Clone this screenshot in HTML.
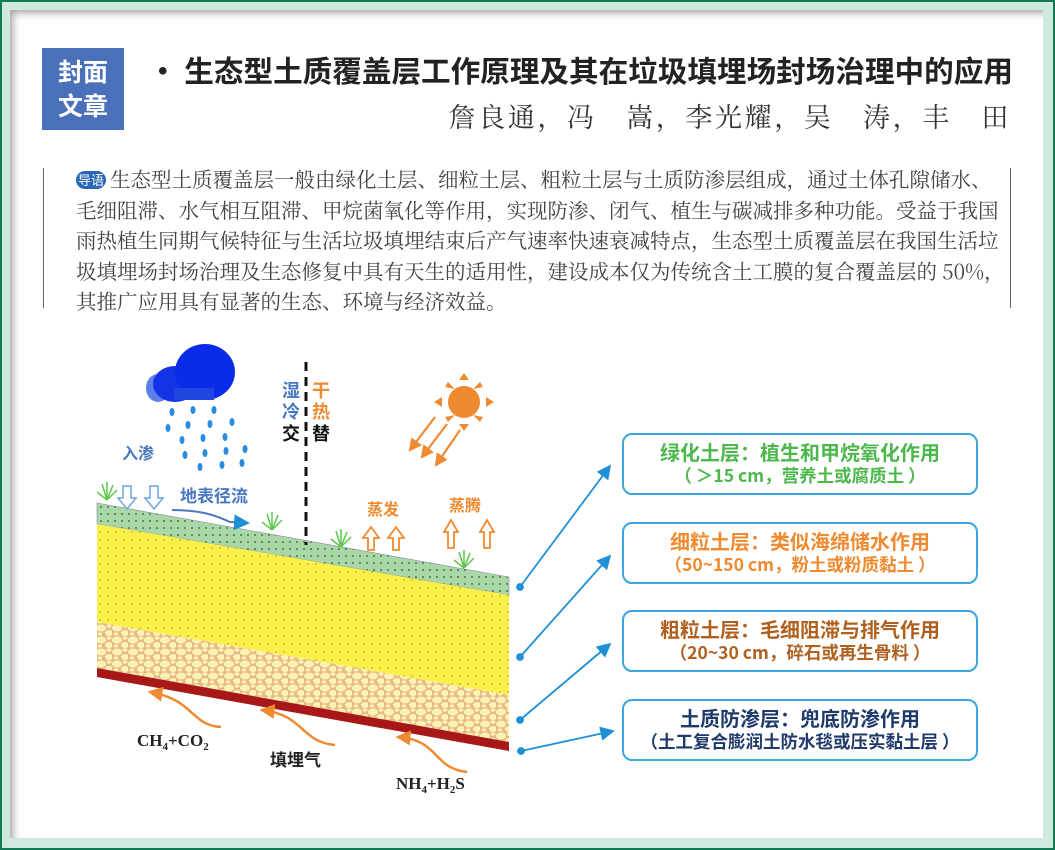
<!DOCTYPE html>
<html><head><meta charset="utf-8"><style>
html,body{margin:0;padding:0;}
body{width:1055px;height:850px;position:relative;background:#cfe9df;overflow:hidden;font-family:"Liberation Sans","Noto Sans CJK SC",sans-serif;}
.outer{position:absolute;left:0;top:0;width:1051px;height:846px;border:2px solid #127a52;}
.card{position:absolute;left:10px;top:10px;width:1033px;height:828px;background:#fff;box-shadow:inset 6px 6px 8px -3px rgba(0,0,0,0.35);}
.badge{position:absolute;left:42px;top:48px;width:82px;height:82px;background:#4a70ba;color:#fff;font-weight:bold;font-size:25px;line-height:34px;text-align:center;padding-top:6px;box-sizing:border-box;font-family:"Noto Sans CJK SC",sans-serif;}
.title{position:absolute;left:148px;top:48px;font-size:29.6px;font-weight:bold;color:#222;font-family:"Noto Sans CJK SC",sans-serif;white-space:nowrap;letter-spacing:0px;}
.auth{position:absolute;right:44px;top:96px;font-size:27px;color:#333;font-family:"Noto Serif CJK SC",serif;white-space:nowrap;letter-spacing:2.6px;}
.bar{position:absolute;top:168px;height:140px;border-left:1.5px solid #666;}
.para{position:absolute;left:76px;top:163px;width:930px;font-size:20.5px;line-height:30.5px;color:#444;font-family:"Noto Serif CJK SC",serif;white-space:nowrap;}
.dy{display:inline-block;background:#2a66b5;color:#fff;border-radius:9px;font-size:13px;line-height:18px;padding:0 2px;margin-right:4px;vertical-align:2px;font-family:"Noto Sans CJK SC",sans-serif;}
.box{position:absolute;left:622px;width:356px;height:62px;border:2px solid #3aa6e0;border-radius:10px;box-sizing:border-box;text-align:center;font-family:"Noto Sans CJK SC",sans-serif;font-weight:bold;white-space:nowrap;}
.box .a{font-size:20px;line-height:24px;margin-top:5px;}
.box .b{font-size:17.5px;line-height:24px;}
</style></head><body>
<div class="outer"></div>
<div class="card"></div>
<div class="badge">封面<br>文章</div>
<div class="title">· 生态型土质覆盖层工作原理及其在垃圾填埋场封场治理中的应用</div>
<div class="auth">詹良通，冯　嵩，李光耀，吴　涛，丰　田</div>
<div class="bar" style="left:43px"></div>
<div class="bar" style="left:1010px"></div>
<div class="para"><span class="dy">导语</span>生态型土质覆盖层一般由绿化土层、细粒土层、粗粒土层与土质防渗层组成，通过土体孔隙储水、<br>毛细阻滞、水气相互阻滞、甲烷菌氧化等作用，实现防渗、闭气、植生与碳减排多种功能。受益于我国<br>雨热植生同期气候特征与生活垃圾填埋结束后产气速率快速衰减特点，生态型土质覆盖层在我国生活垃<br>圾填埋场封场治理及生态修复中具有天生的适用性，建设成本仅为传统含土工膜的复合覆盖层的 50%，<br>其推广应用具有显著的生态、环境与经济效益。</div>

<svg style="position:absolute;left:0;top:0" width="1055" height="850">
<defs>
<pattern id="dg" width="7" height="7" patternUnits="userSpaceOnUse"><rect width="7" height="7" fill="#a8d8a8"/><circle cx="3" cy="3" r="0.9" fill="#335533"/></pattern>
<pattern id="dy" width="8" height="8" patternUnits="userSpaceOnUse"><rect width="8" height="8" fill="#fbf04a"/><circle cx="4" cy="4" r="0.7" fill="#a09020"/></pattern>
<pattern id="gr" width="16" height="12" patternUnits="userSpaceOnUse"><rect width="16" height="12" fill="#e8b88a"/><ellipse cx="5" cy="4" rx="5" ry="3.5" fill="#fbf3b0"/><ellipse cx="13" cy="9" rx="4" ry="3" fill="#fbf3b0"/><ellipse cx="13" cy="2" rx="2.5" ry="1.8" fill="#fbf3b0"/><ellipse cx="4" cy="10" rx="2.5" ry="1.6" fill="#fbf3b0"/></pattern>
<marker id="ab" markerWidth="8" markerHeight="8" refX="7" refY="4" orient="auto"><path d="M0,0 L8,4 L0,8 z" fill="#1f8fd6"/></marker>
<marker id="ao" markerWidth="6" markerHeight="6" refX="5" refY="3" orient="auto"><path d="M0,0 L6,3 L0,6 z" fill="#f08a30"/></marker>
</defs>
<polygon points="97,503 509,577 509,595 97,524" fill="url(#dg)" stroke="#889" stroke-width="0.6"/>
<polygon points="97,524 509,595 509,695 97,622" fill="url(#dy)"/>
<polygon points="97,622 509,695 509,742 97,668" fill="url(#gr)"/>
<polygon points="97,668 509,742 509,751 97,677" fill="#a81818"/>
<g stroke="#5cc84c" stroke-width="1.5" fill="none">
<path d="M107,500 l-5,-16 M107,500 l0,-18 M107,500 l6,-15 M107,500 l10,-10 M107,500 l-10,-8"/>
<path d="M272,530 l-5,-16 M272,530 l0,-18 M272,530 l6,-15 M272,530 l10,-10 M272,530 l-10,-8"/>
<path d="M341,547 l-5,-16 M341,547 l0,-18 M341,547 l6,-15 M341,547 l10,-10 M341,547 l-10,-8"/>
<path d="M464,568 l-5,-16 M464,568 l0,-18 M464,568 l6,-15 M464,568 l10,-10 M464,568 l-10,-8"/>
</g>
<ellipse cx="158" cy="388" rx="12" ry="14" fill="#5d7de8"/>
<ellipse cx="175" cy="384" rx="22" ry="18" fill="#1533e6"/>
<ellipse cx="205" cy="372" rx="30" ry="28" fill="#0a2ce8"/>
<rect x="174" y="388" width="40" height="12" fill="#2244e0"/>
<g fill="#2a8ce0">
<ellipse cx="172" cy="412" rx="2.5" ry="4"/><ellipse cx="193" cy="410" rx="2.5" ry="4"/><ellipse cx="214" cy="410" rx="2.5" ry="4"/>
<ellipse cx="168" cy="428" rx="2.5" ry="4"/><ellipse cx="188" cy="425" rx="2.5" ry="4"/><ellipse cx="210" cy="424" rx="2.5" ry="4"/><ellipse cx="232" cy="422" rx="2.5" ry="4"/>
<ellipse cx="182" cy="440" rx="2.5" ry="4"/><ellipse cx="203" cy="438" rx="2.5" ry="4"/><ellipse cx="225" cy="437" rx="2.5" ry="4"/>
<ellipse cx="185" cy="455" rx="2.5" ry="4"/><ellipse cx="205" cy="453" rx="2.5" ry="4"/><ellipse cx="226" cy="451" rx="2.5" ry="4"/><ellipse cx="245" cy="449" rx="2.5" ry="4"/>
<ellipse cx="200" cy="467" rx="2.5" ry="4"/><ellipse cx="222" cy="465" rx="2.5" ry="4"/><ellipse cx="242" cy="463" rx="2.5" ry="4"/>
</g>
<text x="122" y="459" font-size="16" font-weight="bold" fill="#4a78c0" font-family="Noto Sans CJK SC,sans-serif">入渗</text>
<g fill="#fff" stroke="#6ea6e0" stroke-width="1.5">
<path d="M123,486 h8 v12 h5 l-9,11 l-9,-11 h5 z"/><path d="M150,486 h8 v12 h5 l-9,11 l-9,-11 h5 z"/>
</g>
<text x="180" y="502" font-size="17" font-weight="bold" fill="#4a78c0" font-family="Noto Sans CJK SC,sans-serif">地表径流</text>
<path d="M172,510 C200,510 215,515 230,522 L248,523" stroke="#4a78c0" stroke-width="2" fill="none" marker-end="url(#ab)"/>
<line x1="306" y1="362" x2="306" y2="545" stroke="#111" stroke-width="3" stroke-dasharray="9,6"/>
<g font-size="18" font-weight="bold" font-family="Noto Sans CJK SC,sans-serif">
<text x="282" y="397" fill="#4a78c0">湿</text><text x="282" y="418" fill="#4a78c0">冷</text><text x="282" y="440" fill="#111">交</text>
<text x="312" y="397" fill="#f08a30">干</text><text x="312" y="418" fill="#f08a30">热</text><text x="312" y="440" fill="#111">替</text>
</g>
<circle cx="464" cy="402" r="16" fill="#f08a30"/>
<g fill="#f08a30">
<polygon points="459,380 469,380 464,373"/><polygon points="459,424 469,424 464,431"/>
<polygon points="442,397 442,407 434,402"/><polygon points="486,397 486,407 494,402"/>
<polygon points="448,382 455,389 445,387"/><polygon points="480,382 473,389 483,387"/>
<polygon points="448,422 455,415 445,417"/><polygon points="480,422 473,415 483,417"/>
</g>
<g stroke="#f08a30" stroke-width="2.2">
<line x1="435" y1="417" x2="410" y2="450" marker-end="url(#ao)"/>
<line x1="447" y1="424" x2="422" y2="457" marker-end="url(#ao)"/>
<line x1="460" y1="430" x2="436" y2="465" marker-end="url(#ao)"/>
</g>
<g font-size="16" font-weight="bold" fill="#f08a30" font-family="Noto Sans CJK SC,sans-serif">
<text x="367" y="515">蒸发</text><text x="449" y="511">蒸腾</text></g>
<g fill="#fff" stroke="#f08a30" stroke-width="1.8">
<path d="M368,550 v-12 h-5 l8,-11 l8,11 h-5 v12 z"/><path d="M393,550 v-12 h-5 l8,-11 l8,11 h-5 v12 z"/>
<path d="M448,548 v-16 h-4 l7,-12 l7,12 h-4 v16 z"/><path d="M484,548 v-16 h-4 l7,-12 l7,12 h-4 v16 z"/>
</g>
<g stroke="#f08a30" stroke-width="2.5" fill="none">
<path d="M221,727 C190,725 195,700 150,692" marker-end="url(#ao)"/>
<path d="M335,745 C300,742 305,715 262,710" marker-end="url(#ao)"/>
<path d="M467,772 C432,768 440,740 398,737" marker-end="url(#ao)"/>
</g>
<g font-family="Liberation Serif,serif" font-weight="bold" fill="#222">
<text x="137" y="746" font-size="17">CH<tspan font-size="11" dy="4">4</tspan><tspan dy="-4">+CO</tspan><tspan font-size="11" dy="4">2</tspan></text>
<text x="396" y="789" font-size="17">NH<tspan font-size="11" dy="4">4</tspan><tspan dy="-4">+H</tspan><tspan font-size="11" dy="4">2</tspan><tspan dy="-4">S</tspan></text>
</g>
<text x="270" y="766" font-size="17" font-weight="bold" fill="#222" font-family="Noto Sans CJK SC,sans-serif">填埋气</text>
<g stroke="#1f8fd6" stroke-width="1.8" fill="#1f8fd6">
<line x1="520" y1="587" x2="610" y2="466" marker-end="url(#ab)"/><circle cx="520" cy="587" r="3"/>
<line x1="520" y1="657" x2="610" y2="556" marker-end="url(#ab)"/><circle cx="520" cy="657" r="3"/>
<line x1="520" y1="720" x2="610" y2="644" marker-end="url(#ab)"/><circle cx="520" cy="720" r="3"/>
<line x1="521" y1="751" x2="613" y2="731" marker-end="url(#ab)"/><circle cx="521" cy="751" r="3"/>
</g>
</svg>
<div class="box" style="top:433px;color:#4cb84c"><div class="a">绿化土层：植生和甲烷氧化作用</div><div class="b">（ ＞15 cm，营养土或腐质土 ）</div></div>
<div class="box" style="top:522px;color:#f08a30"><div class="a">细粒土层：类似海绵储水作用</div><div class="b">（50~150 cm，粉土或粉质黏土 ）</div></div>
<div class="box" style="top:610px;color:#b0601e"><div class="a">粗粒土层：毛细阻滞与排气作用</div><div class="b">（20~30 cm，碎石或再生骨料 ）</div></div>
<div class="box" style="top:699px;color:#1f3a6a"><div class="a">土质防渗层：兜底防渗作用</div><div class="b">（土工复合膨润土防水毯或压实黏土层 ）</div></div>
</body></html>
